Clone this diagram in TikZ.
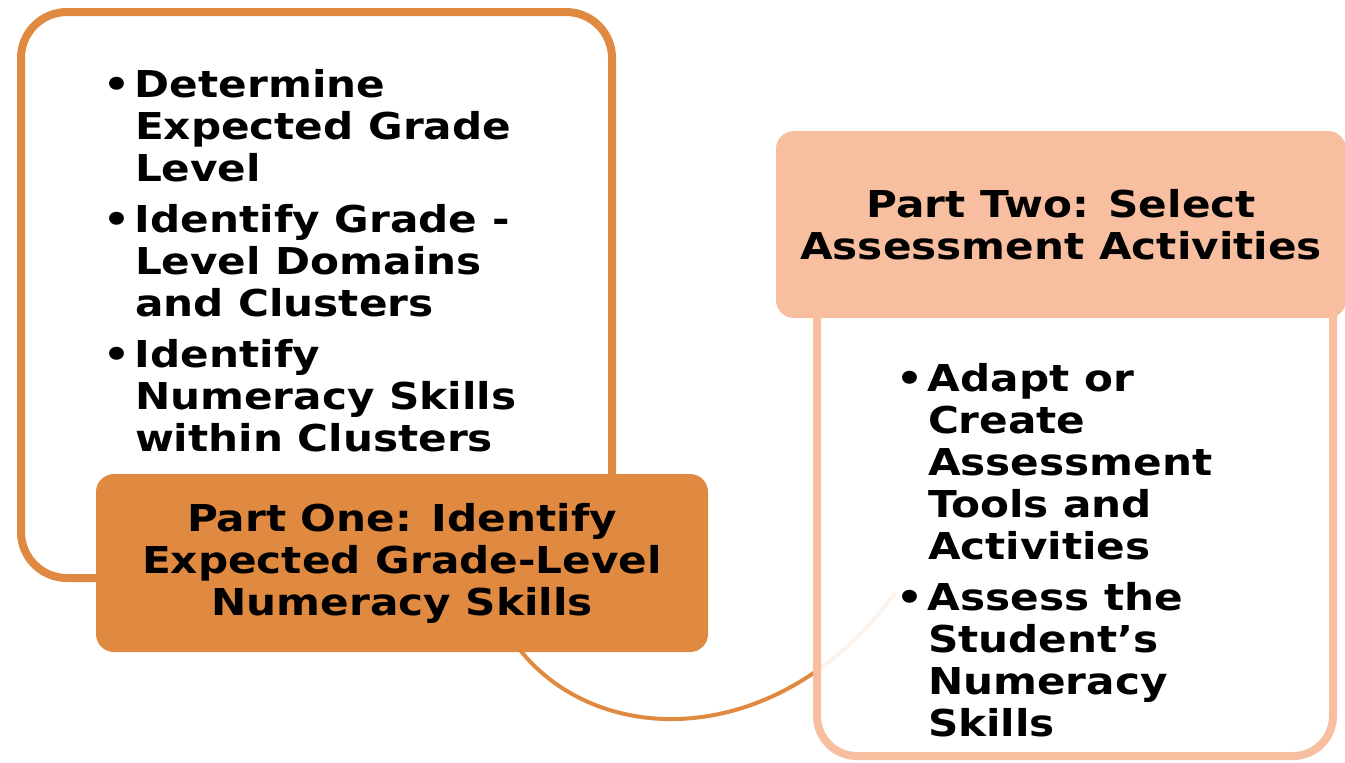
\documentclass[tikz,border=0pt]{standalone}
\usepackage{fontspec}
\setmainfont[FakeStretch=1.14]{DejaVu Sans}
\definecolor{orng}{RGB}{224,137,64}
\definecolor{peach}{RGB}{247,190,160}
\newcommand{\bul}{\llap{\textbullet\hspace{5pt}}}
\tikzset{
  outlinebox/.style={draw=#1, line width=8pt, rounded corners=46pt, outer sep=0pt, inner sep=0pt, anchor=north west},
  headbox/.style={fill=#1, rounded corners=18pt, outer sep=0pt, inner sep=0pt, anchor=north west, align=center},
  bodytext/.style={anchor=north west, inner sep=0pt, outer sep=0pt, align=left, font=\fontsize{37}{42}\selectfont\bfseries},
  headtext/.style={font=\fontsize{37}{42}\selectfont\bfseries},
  link/.style={line width=4pt}
}
\begin{document}
\begin{tikzpicture}[x=1pt,y=-1pt]
\useasboundingbox (0,0) rectangle (1345,763);
% left outline box
\node[outlinebox=orng, fill=white, minimum width=591pt, minimum height=566pt] (outL) at (21,12) {};
% connector
\coordinate (cstart) at (520,650);
\coordinate (cend) at (895,593);
\draw[link, orng] (cstart) .. controls (600,750) and (780,750) .. (cend);
% Part One box
\node[headbox=orng, headtext, minimum width=612pt, minimum height=178pt] (p1) at (96,474)
  {Part One: Identify\\Expected Grade-Level\\Numeracy Skills};
% right outline box
\node[outlinebox=peach, fill=white, fill opacity=0.9, rounded corners=40pt, minimum width=516pt, minimum height=506pt] (outR) at (817,250) {};
% Part Two box
\node[headbox=peach, headtext, minimum width=570pt, minimum height=187pt] (p2) at (776,131)
  {Part Two: Select\\Assessment Activities};
% left bullet text
\node[bodytext] (tL) at (135,69)
  {\bul Determine\\Expected Grade\\Level\\[9pt]\bul Identify Grade -\\Level Domains\\and Clusters\\[9pt]\bul Identify\\Numeracy Skills\\within Clusters};
% right bullet text
\node[bodytext] (tR) at (928,363)
  {\bul Adapt or\\Create\\Assessment\\Tools and\\Activities\\[9pt]\bul Assess the\\Student’s\\Numeracy\\Skills};
\end{tikzpicture}
\end{document}
